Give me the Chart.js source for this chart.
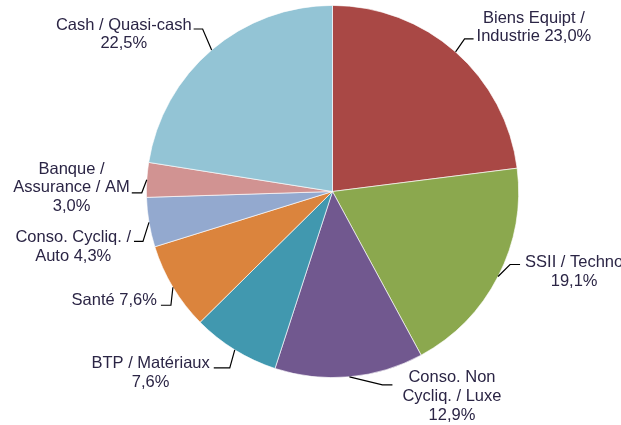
<!DOCTYPE html>
<html>
<head>
<meta charset="utf-8">
<script src="https://cdn.jsdelivr.net/npm/chart.js@4.4.0/dist/chart.umd.min.js"></script>
<style>
  html, body { margin: 0; padding: 0; background: #fff; }
  canvas { display: block; }
</style>
</head>
<body>
<canvas id="sectors" width="621" height="425"></canvas>
<script>
// sector weights (%), clockwise from 12 o'clock
const categories = [
  'Biens Equipt /\nIndustrie',
  'SSII / Techno',
  'Conso. Non\nCycliq. / Luxe',
  'BTP / Matériaux',
  'Santé',
  'Conso. Cycliq. /\nAuto',
  'Banque /\nAssurance / AM',
  'Cash / Quasi-cash'
];
const weights = [23.0, 19.1, 12.9, 7.6, 7.6, 4.3, 3.0, 22.5];
const pctOnOwnLine = [false, true, true, true, false, false, true, true];
const colors = ['#A94845', '#8BA84E', '#71588F', '#4198AF', '#DB843D', '#93A9CF', '#D19392', '#93C4D5'];

// leader line: elbow offset from slice edge, horizontal run, gap to text, text offset
const leaders = [
  { ex: 9,  ey: -13, run: 9,  gap: 3,  side: 1,  line: 1, dy: -2 },
  { ex: 12, ey: -12, run: 10, gap: 5,  side: 1,  line: 0, dy: -2 },
  { ex: 33, ey: 8,   run: 10, gap: 10, side: 1,  line: 0, dy: -7 },
  { ex: -5, ey: 18,  run: 16, gap: 4,  side: -1, line: 0, dy: -4 },
  { ex: -2, ey: 18,  run: 10, gap: 4,  side: -1, line: 0, dy: -5 },
  { ex: -6, ey: 19,  run: 9,  gap: 3,  side: -1, line: 0, dy: -4 },
  { ex: -5, ey: 13,  run: 10, gap: 2,  side: -1, line: 1, dy: -5 },
  { ex: -9, ey: -21, run: 9,  gap: 2,  side: -1, line: 0, dy: -4 }
];

const fmt = v => v.toFixed(1).replace('.', ',') + '%';

function labelLines(i) {
  const parts = categories[i].split('\n');
  if (pctOnOwnLine[i]) parts.push(fmt(weights[i]));
  else parts[parts.length - 1] += ' ' + fmt(weights[i]);
  return parts;
}

const sliceLabels = {
  id: 'sliceLabels',
  afterDatasetsDraw(chart) {
    const ctx = chart.ctx;
    const arcs = chart.getDatasetMeta(0).data;
    const lineH = 18.8;
    ctx.save();
    ctx.font = '16.5px "Liberation Sans", Arial, sans-serif';
    ctx.textBaseline = 'middle';
    ctx.textAlign = 'center';
    arcs.forEach((arc, i) => {
      const L = leaders[i];
      const mid = (arc.startAngle + arc.endAngle) / 2;
      const px = arc.x + Math.cos(mid) * arc.outerRadius;
      const py = arc.y + Math.sin(mid) * arc.outerRadius;
      const kx = px + L.ex, ky = py + L.ey;
      const hx = kx + L.side * L.run;

      ctx.strokeStyle = '#000';
      ctx.lineWidth = 1.2;
      ctx.beginPath();
      ctx.moveTo(px, py);
      ctx.lineTo(kx, ky);
      ctx.lineTo(hx, ky);
      ctx.stroke();

      const lines = labelLines(i);
      const w = Math.max(...lines.map(t => ctx.measureText(t).width));
      const cx = hx + L.side * (L.gap + w / 2);
      const y0 = ky + L.dy - L.line * lineH;
      ctx.fillStyle = '#2B2545';
      lines.forEach((t, j) => ctx.fillText(t, cx, y0 + j * lineH));
    });
    ctx.restore();
  }
};

new Chart(document.getElementById('sectors').getContext('2d'), {
  type: 'pie',
  data: {
    labels: categories,
    datasets: [{
      data: weights,
      backgroundColor: colors,
      borderColor: 'rgba(255,255,255,0.8)',
      borderWidth: 0.8,
      hoverOffset: 0
    }]
  },
  options: {
    responsive: false,
    animation: false,
    layout: { padding: { left: 146, right: 102, top: 5, bottom: 47 } },
    plugins: {
      legend: { display: false },
      tooltip: { enabled: false }
    }
  },
  plugins: [sliceLabels]
});
</script>
</body>
</html>
